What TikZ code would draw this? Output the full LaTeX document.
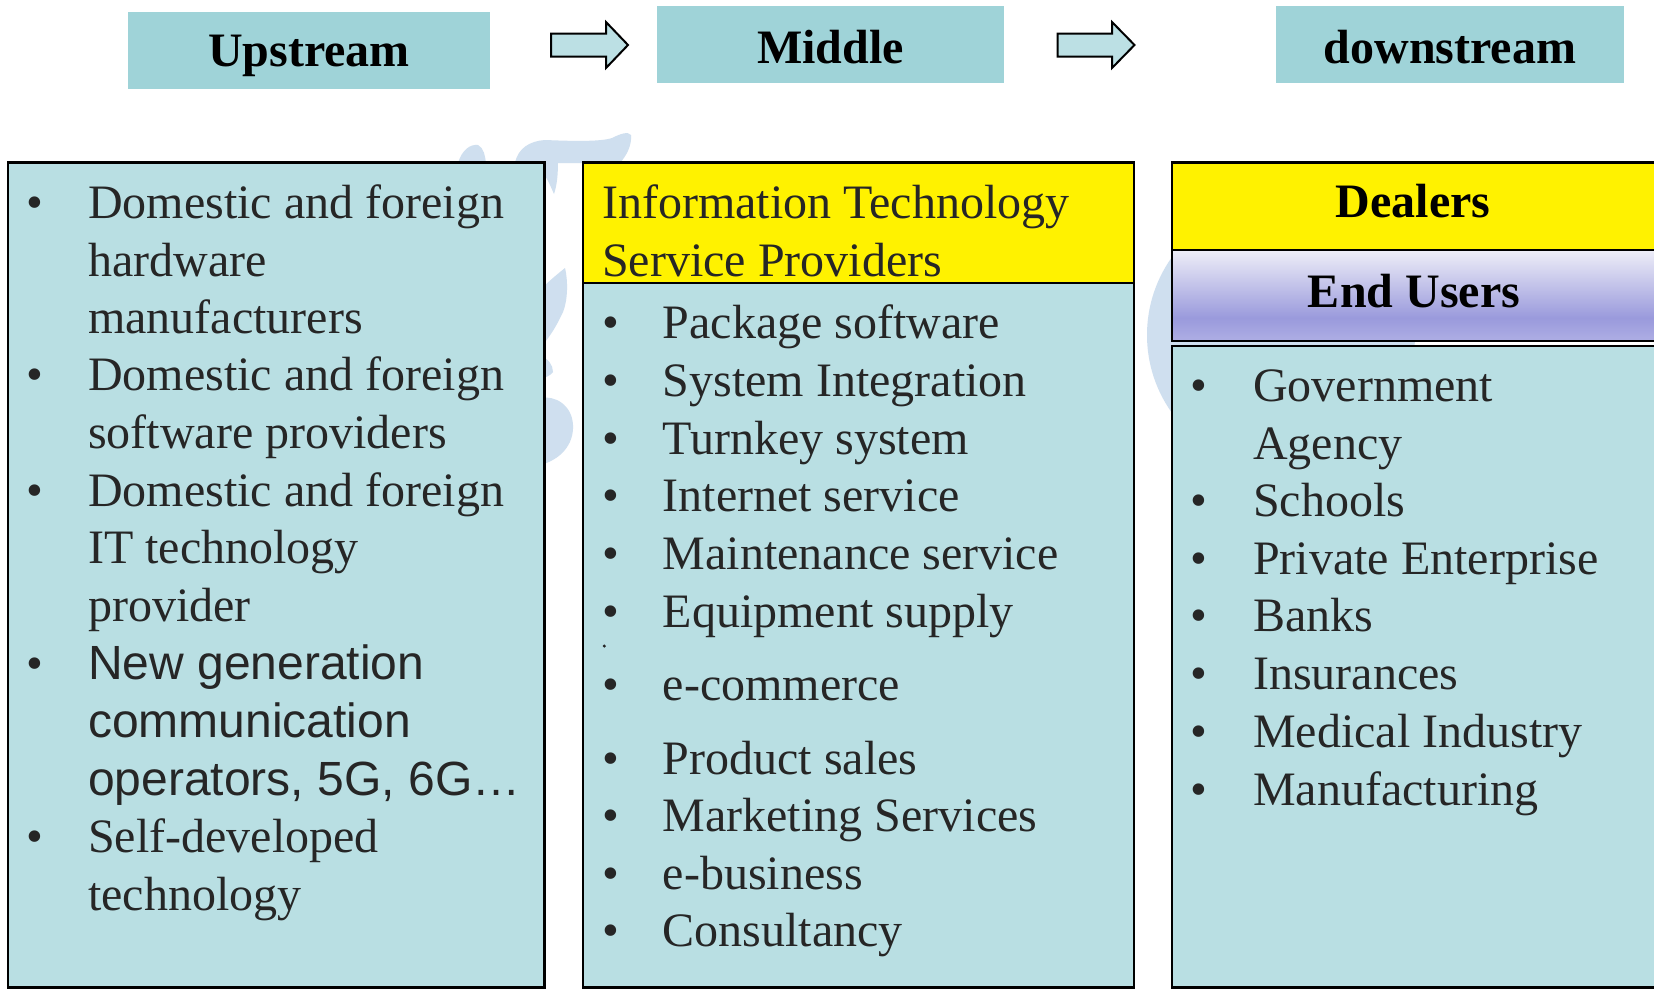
\documentclass[tikz,border=0pt]{standalone}
\usepackage{fontspec}
\setmainfont{Liberation Serif}
\newfontfamily\arialf{Liberation Sans}
\definecolor{hdr}{HTML}{9FD3D8}
\definecolor{boxc}{HTML}{B9DFE3}
\definecolor{arr}{HTML}{BCE0E4}
\definecolor{wm}{HTML}{CFDFEF}
\definecolor{ink}{HTML}{262626}
\definecolor{euT}{HTML}{EEEEF8}
\definecolor{euM}{HTML}{9A9ADC}
\definecolor{euB}{HTML}{AEAEE4}
\begin{document}
\begin{tikzpicture}[x=1pt,y=-1pt,
  big/.style={font=\fontsize{48}{57.8}\selectfont, text=ink, inner sep=0pt},
  item/.style={big, anchor=base west},
  bul/.style={big, anchor=base},
  head/.style={font=\fontsize{48}{57.8}\selectfont\bfseries, text=black, inner sep=0pt, anchor=base},
  col/.style={draw=black, line width=2.5pt, fill=boxc},
  hbox/.style={fill=hdr},
  blk/.style={draw=black, line width=2pt, fill=arr, line join=miter}
]
\useasboundingbox (0,0) rectangle (1654,989);
\fill[white] (0,0) rectangle (1654,989);

% watermark (faint logo behind the columns)
\begin{scope}[fill=wm]
\fill (458,163) .. controls (462,150) and (470,144) .. (478,145) .. controls (484,148) and (485,156) .. (486,163) -- cycle;
\fill (515,163) .. controls (518,148) and (530,141) .. (545,140) .. controls (570,141) and (600,142) .. (612,138) .. controls (620,134) and (628,131) .. (631,135) .. controls (632,146) and (626,156) .. (620,163) -- cycle;
\fill (540,160) -- (558,160) .. controls (558,175) and (557,185) .. (554,194) .. controls (550,185) and (546,175) .. (540,170) -- cycle;
\fill (540,290) .. controls (550,280) and (560,272) .. (565,268) .. controls (568,280) and (568,300) .. (563,312) .. controls (557,325) and (550,337) .. (540,348) -- cycle;
\fill (540,356) .. controls (548,358) and (553,365) .. (553,372) .. controls (550,376) and (545,378) .. (540,378) -- cycle;
\fill (540,398) .. controls (555,395) and (572,405) .. (573,425) .. controls (574,445) and (560,460) .. (540,465) -- cycle;
\fill (1281,335) circle (134pt);
\end{scope}

% header bar
\fill[hdr] (128,11.6) rectangle (490,88.6);
\fill[hdr] (657,6.3) rectangle (1004,83.3);
\fill[hdr] (1276,6.3) rectangle (1624,83.3);
\node[head] (up) at (309,66.5) {Upstream};
\node[head] (mid) at (830.5,63.3) {Middle};
\node[head] (down) at (1450,63.3) {downstream};
\draw[blk] (551,33.5) -- (606,33.5) -- (606,22) -- (628,45) -- (606,68) -- (606,56.5) -- (551,56.5) -- cycle;
\draw[blk] (1057.5,33.5) -- (1112,33.5) -- (1112,22) -- (1134.5,45) -- (1112,68) -- (1112,56.5) -- (1057.5,56.5) -- cycle;

% left column
\draw[col] (8,162.5) rectangle (544.5,987.5);
\foreach \y [count=\i] in {218.3,390.4,506,679.4,852.8}{\node[bul] (lb\i) at (35,\y) {•};}
\node[item] (l1) at (88,218.3) {Domestic and foreign};
\node[item] (l2) at (88,276) {hardware};
\node[item] (l3) at (88,333.3) {manufacturers};
\node[item] (l4) at (88,390.4) {Domestic and foreign};
\node[item] (l5) at (88,448.2) {software providers};
\node[item] (l6) at (88,506) {Domestic and foreign};
\node[item] (l7) at (88,563.8) {IT technology};
\node[item] (l8) at (88,621.6) {provider};
\node[item, font=\fontsize{48}{57.8}\arialf] (l9) at (88,679.4) {New generation};
\node[item, font=\fontsize{48}{57.8}\arialf] (l10) at (88,737.2) {communication};
\node[item, font=\fontsize{48}{57.8}\arialf] (l11) at (88,795) {operators, 5G, 6G…};
\node[item] (l12) at (88,852.8) {Self-developed};
\node[item] (l13) at (88,910.6) {technology};

% middle column
\draw[col] (583,162.5) rectangle (1134,987.5);
\draw[line width=2.5pt, fill=yellow] (583,162.5) rectangle (1134,283);
\node[item] (m0a) at (602,218.3) {Information Technology};
\node[item] (m0b) at (602,276) {Service Providers};
\foreach \y/\t [count=\i] in {338.3/Package software, 396.2/System Integration, 454/Turnkey system, 511.4/Internet service, 569.2/Maintenance service, 627/Equipment supply, 700/e-commerce, 774/Product sales, 831.7/Marketing Services, 889.3/e-business, 946.7/Consultancy}{
  \node[bul] (mb\i) at (610.5,\y) {•};
  \node[item] (m\i) at (662.5,\y) {\t};
}
\fill[ink] (604.3,646) circle (1.7pt);

% right column
\draw[line width=2.5pt, fill=yellow] (1172,162.5) rectangle (1660,250);
\shade[top color=euT, bottom color=euM] (1172,250) rectangle (1660,318);
\shade[top color=euM, bottom color=euB] (1172,318) rectangle (1660,341);
\draw[line width=2.5pt] (1172,250) rectangle (1660,341);
\node[head] (dl) at (1413,217.5) {Dealers};
\node[head] (eu) at (1414,307.5) {End Users};
\draw[col] (1172,346) rectangle (1660,987.5);
\foreach \y [count=\i] in {401.7,516.7,574.3,631.7,689.3,747.3,805}{\node[bul] (rb\i) at (1199.3,\y) {•};}
\node[item] (r1) at (1253,401.7) {Government};
\node[item] (r2) at (1253,459) {Agency};
\node[item] (r3) at (1253,516.7) {Schools};
\node[item] (r4) at (1253,574.3) {Private Enterprise};
\node[item] (r5) at (1253,631.7) {Banks};
\node[item] (r6) at (1253,689.3) {Insurances};
\node[item] (r7) at (1253,747.3) {Medical Industry};
\node[item] (r8) at (1253,805) {Manufacturing};
\end{tikzpicture}
\end{document}
